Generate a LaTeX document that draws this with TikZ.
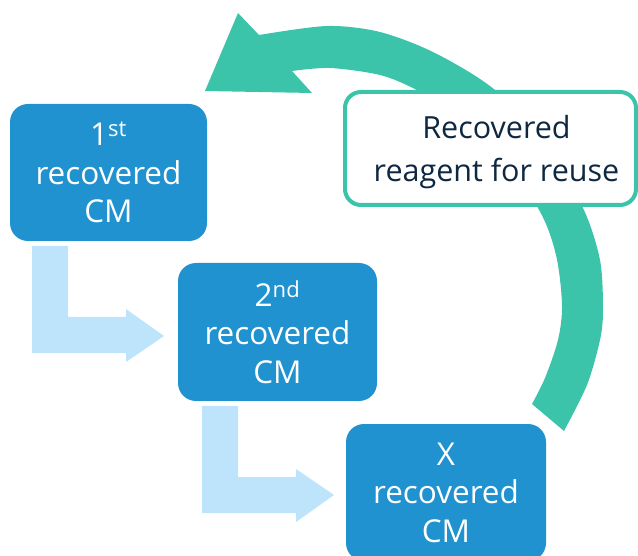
\documentclass[tikz,border=0pt]{standalone}
\usepackage{fontspec}
\setmainfont{Open Sans}
\definecolor{boxblue}{HTML}{2092D0}
\definecolor{lightarrow}{HTML}{BDE4FB}
\definecolor{tealc}{HTML}{3CC4AB}
\definecolor{navy}{HTML}{0E2841}
\tikzset{
  cmbox/.style={fill=boxblue, rounded corners=18pt, text=white, align=center,
    inner sep=0pt, font=\fontsize{31.5}{38.5}\selectfont},
  larrow/.style={fill=lightarrow},
  reuse/.style={draw=tealc, line width=4pt, fill=white, rounded corners=16pt,
    inner sep=0pt},
  reusetext/.style={text=navy, align=center, inner sep=0pt,
    font=\fontsize{30.5}{43}\selectfont},
}
\begin{document}
\begin{tikzpicture}[x=1pt,y=-1pt]
\useasboundingbox (0,0) rectangle (638,556);
\clip (0,0) rectangle (638,556);
% recycling arrow
\fill[tealc] plot[smooth] coordinates {(564,431) (587,385) (600,340) (603,310) (600,260) (583,208) (545,146) (495,90) (435,53) (380,32) (327,26) (259,35)}
  -- (238,13) -- (205,91) -- (312,93) --
  plot[smooth] coordinates {(292,71) (330,68) (380,75) (417,90) (482,125) (538,208) (556,255) (562,305) (558,340) (545,378) (532,404)} -- cycle;
% L-shaped arrows
\fill[larrow] (32,246) -- (68,246) -- (68,317) -- (126,317) -- (126,309) -- (164,336) -- (126,362) -- (126,353) -- (32,353) -- cycle;
\fill[larrow] (202,406) -- (238,406) -- (238,477) -- (296,477) -- (296,469) -- (334,495) -- (296,522) -- (296,513) -- (202,513) -- cycle;
% boxes
\node[cmbox, minimum width=197pt, minimum height=137pt] (b1) at (108.5,172.5) {1\textsuperscript{st}\\recovered\\CM};
\node[cmbox, minimum width=199pt, minimum height=138pt] (b2) at (277.5,332) {2\textsuperscript{nd}\\recovered\\CM};
\node[cmbox, minimum width=200pt, minimum height=137pt] (b3) at (446,492.5) {X\\recovered\\CM};
\node[reuse, minimum width=291pt, minimum height=113pt] (r) at (490.5,148.5) {};
\node[reusetext] (rt) at (496.5,152) {Recovered\\reagent for reuse};
\end{tikzpicture}
\end{document}
